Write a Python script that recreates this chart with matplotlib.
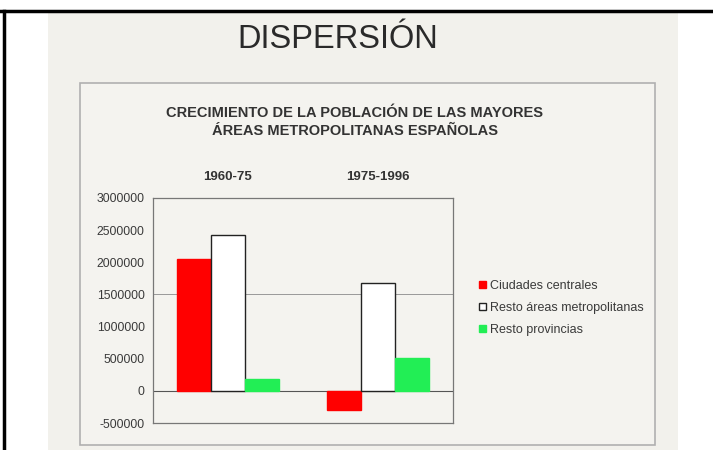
import numpy as np
import matplotlib.pyplot as plt
from matplotlib.patches import Rectangle
from matplotlib.lines import Line2D

plt.rcParams['font.family'] = ['Liberation Sans', 'DejaVu Sans']

periods = ['1960-75', '1975-1996']
series = ['Ciudades centrales', 'Resto áreas metropolitanas', 'Resto provincias']
ciudades = [2050000, -290000]
resto_areas = [2430000, 1680000]
resto_prov = [185000, 510000]
colors = ['#ff0000', '#ffffff', '#22ee55']
yticks = [-500000, 0, 500000, 1000000, 1500000, 2000000, 2500000, 3000000]

W, H = 713, 450
fig = plt.figure(figsize=(W / 100, H / 100), dpi=100)
fig.patch.set_facecolor('white')

def fx(px):
    return px / W

def fy(py):
    return 1 - py / H

# scanned page area
fig.patches.append(Rectangle((fx(48), 0), fx(678) - fx(48), fy(11), transform=fig.transFigure,
                             facecolor='#f2f1ec', edgecolor='none', zorder=-3))
# frame around chart
fig.patches.append(Rectangle((fx(80), fy(445)), fx(655) - fx(80), fy(83) - fy(445),
                             transform=fig.transFigure, facecolor='#f4f3ef',
                             edgecolor='#b0b0b0', lw=1.2, zorder=-2))
# black border lines
fig.lines.append(Line2D([0, 1], [fy(11), fy(11)], transform=fig.transFigure, color='black', lw=2.5))
fig.lines.append(Line2D([fx(4), fx(4)], [0, fy(11)], transform=fig.transFigure, color='black', lw=2.5))

fig.text(fx(338), fy(40), 'DISPERSIÓN', fontsize=23.5, color='#2a2a2a', ha='center', va='center')
fig.text(fx(355), fy(122), 'CRECIMIENTO DE LA POBLACIÓN DE LAS MAYORES\nÁREAS METROPOLITANAS ESPAÑOLAS',
         fontsize=10.5, fontweight='bold', color='#333333', ha='center', va='center', linespacing=1.45)

ax = fig.add_axes([fx(153), fy(423), fx(453) - fx(153), fy(198) - fy(423)])
ax.set_facecolor('#f4f3ef')

x = np.arange(len(periods))
w = 0.227
for i, (vals, c) in enumerate(zip([ciudades, resto_areas, resto_prov], colors)):
    ax.bar(x + (i - 1) * w, vals, width=w, color=c, edgecolor='#222222' if c == '#ffffff' else c,
           lw=1.0, label=series[i], zorder=3)

ax.axhline(0, color='#555555', lw=0.8, zorder=2)
ax.axhline(1500000, color='#999999', lw=0.7, zorder=1)
ax.set_xlim(-0.5, 1.5)
ax.set_ylim(-500000, 3000000)
ax.set_yticks(yticks)
ax.set_yticklabels([str(v) for v in yticks], fontsize=8.8, color='#3a3a3a')
ax.xaxis.tick_top()
ax.set_xticks(x)
ax.set_xticklabels(periods, fontsize=9.5, fontweight='bold', color='#333333')
ax.tick_params(axis='x', length=0, pad=11)
ax.tick_params(axis='y', length=0, pad=6)
for s in ax.spines.values():
    s.set_color('#777777')
    s.set_linewidth(0.9)

ax.legend(loc='center left', bbox_to_anchor=(fx(468), fy(308)), bbox_transform=fig.transFigure,
          frameon=False, fontsize=9, handlelength=0.55, handleheight=0.55, handletextpad=0.35,
          labelspacing=0.8, labelcolor='#3a3a3a')

fig.savefig('out.png', dpi=100)
